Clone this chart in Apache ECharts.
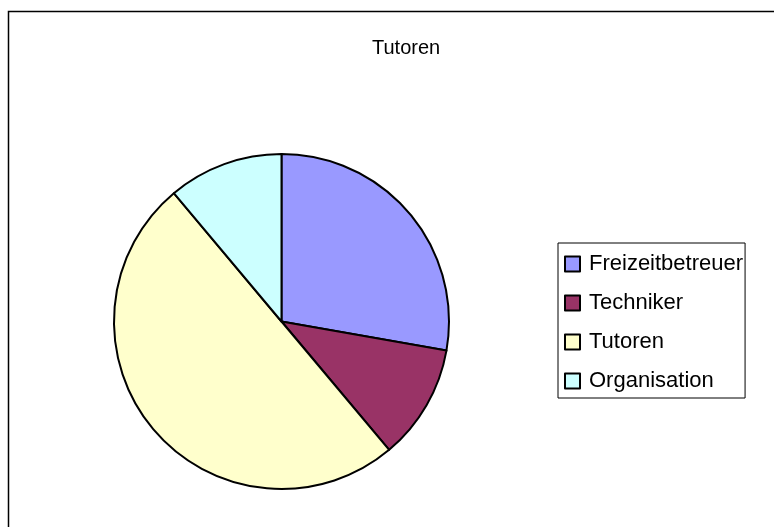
<!DOCTYPE html>
<html>
<head>
<meta charset="utf-8">
<script src="https://cdn.jsdelivr.net/npm/echarts@6/dist/echarts.min.js"></script>
<style>
html,body{margin:0;padding:0;background:#fff;}
#chart{width:774px;height:527px;}
</style>
</head>
<body>
<div id="chart"></div>
<script>
const chartTitle = 'Tutoren';
const categories = ['Freizeitbetreuer', 'Techniker', 'Tutoren', 'Organisation'];
const values = [5, 2, 9, 2];
const colors = ['#9999FF', '#993366', '#FFFFCC', '#CCFFFF'];

const chart = echarts.init(document.getElementById('chart'), null, {renderer: 'canvas'});
chart.setOption({
  animation: false,
  backgroundColor: '#fff',
  title: {
    text: chartTitle,
    left: 372,
    top: 38,
    padding: 0,
    textStyle: {fontFamily: 'Liberation Sans', fontSize: 20, fontWeight: 'normal', color: '#000'}
  },
  graphic: [{
    type: 'rect',
    shape: {x: 8.5, y: 11.5, width: 800, height: 600},
    style: {fill: null, stroke: '#000', lineWidth: 1.5},
    silent: true
  }],
  legend: {
    orient: 'vertical',
    left: 558,
    top: 243,
    padding: [9, 2, 5, 6],
    itemGap: 15,
    itemWidth: 15,
    itemHeight: 15,
    icon: 'rect',
    borderColor: '#000',
    borderWidth: 1,
    itemStyle: {borderColor: '#000', borderWidth: 2},
    textStyle: {fontFamily: 'Liberation Sans', fontSize: 22, color: '#000', lineHeight: 24, padding: [0, 0, 0, 4]},
    data: categories
  },
  series: [{
    type: 'pie',
    center: [281.5, 321.5],
    radius: [0, 167.5],
    startAngle: 90,
    clockwise: true,
    label: {show: false},
    labelLine: {show: false},
    emphasis: {disabled: true},
    itemStyle: {borderColor: '#000', borderWidth: 2},
    data: categories.map((c, i) => ({name: c, value: values[i], itemStyle: {color: colors[i]}}))
  }]
});
</script>
</body>
</html>
